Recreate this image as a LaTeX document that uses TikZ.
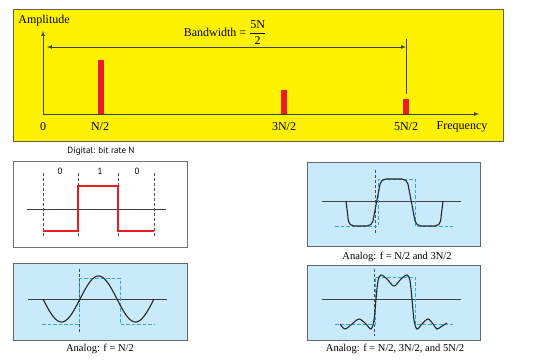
\documentclass[tikz,border=0pt]{standalone}
\usepackage{fontspec}
\setmainfont{Liberation Serif}
\setsansfont{PT Sans}
\usetikzlibrary{arrows,positioning}
\definecolor{barred}{RGB}{237,28,36}
\definecolor{bgyellow}{RGB}{255,242,0}
\definecolor{bglblue}{RGB}{200,234,250}
\definecolor{sqblue}{RGB}{41,171,226}

\begin{document}
\begin{tikzpicture}[x=1pt,y=-1pt,
  every node/.style={font=\fontsize{12}{14}\selectfont, inner sep=1pt},
  lbl/.style={font=\fontsize{10.5}{12}\selectfont},
  sflbl/.style={font=\sffamily\fontsize{9}{11}\selectfont},
  panel/.style={draw=black!60, line width=0.8pt},
  axisline/.style={black!75, line width=0.7pt},
  guide/.style={black!70, dash pattern=on 3pt off 2pt, line width=0.6pt},
  square/.style={sqblue, dash pattern=on 3.5pt off 2pt, line width=0.8pt},
  wave/.style={black!85, line width=1.1pt}]
      \useasboundingbox (0,0) rectangle (534,361);
      % spectrum
      \draw[panel, draw=black!70!yellow, fill=bgyellow] (13,9) rectangle (503,141);
      \fill[barred] (98,60) rectangle (104,114);
      \fill[barred] (281,90) rectangle (287,114);
      \fill[barred] (403,99) rectangle (409,114);
      \coordinate (orig) at (43,114);
      \coordinate (ytop) at (43,31);
      \coordinate (xend) at (479,114);
      \draw[axisline,-latex] (orig) -- (ytop);
      \draw[axisline,-latex] (orig) -- (xend);
      \node at (44,21) (amp) {Amplitude};
      \node at (43,127) (zero) {0};
      \node at (100,127) (half) {N/2};
      \node at (284,127) (threehalf) {3N/2};
      \node at (406,127) (fivehalf) {5N/2};
      \node at (462,127) (freq) {Frequency};
      \node[anchor=base] at (225,36.5) (bw) {Bandwidth = ${\displaystyle\frac{\mbox{5N}}{\mbox{2}}}$};
      \coordinate (bwl) at (47,47);
      \coordinate (bwr) at (406,47);
      \coordinate (bwtop) at (406,39);
      \coordinate (bwbot) at (406,94);
      \draw[axisline,latex-latex] (bwl) -- (bwr);
      \draw[axisline] (bwtop) -- (bwbot);
      % digital signal
      \node[sflbl] at (101,151) (dig) {Digital: bit rate N};
      \draw[panel, draw=black!55, fill=white] (13,161) rectangle (187,247);
      \foreach \x in {43,78,118,154}
        \draw[guide] (\x,173) -- (\x,237);
      \node[sflbl] at (60,171) (bita) {0};
      \node[sflbl] at (100,171) (bitb) {1};
      \node[sflbl] at (137,171) (bitc) {0};
      \draw[axisline] (27,209) -- (166,209);
      \draw[barred, line width=1.8pt] (43,231) -- (78,231) -- (78,186) -- (118,186) -- (118,231) -- (154,231);
      % analog N/2
      \draw[panel, fill=bglblue] (13,263) rectangle (187,340);
      \draw[axisline] (28,299) -- (167,299);
      \draw[guide] (79,269) -- (79,332);
      \draw[square] (42,324) -- (79,324) -- (79,278) -- (120,278) -- (120,324) -- (154,324);
      \draw[wave] plot[domain=0:111, samples=80] ({43+\x},{299+23*sin(\x*4.865)});
      \node[lbl] at (100,349) (ana) {Analog: f = N/2};
      % analog N/2 and 3N/2
      \draw[panel, fill=bglblue] (307,162) rectangle (480,246);
      \draw[axisline] (322,201) -- (461,201);
      \draw[guide] (375,170) -- (375,233);
      \draw[square] (335,226) -- (378,226) -- (378,179) -- (415,179) -- (415,226) -- (453,226);
      \draw[wave, rounded corners=5pt] (346,201) -- (349,226) -- (372,226) -- (381,179) -- (407,179) -- (416,226) -- (440,226) -- (443,201);
      \node[lbl] at (397,257) (anb) {Analog: f = N/2 and 3N/2};
      % analog N/2, 3N/2 and 5N/2
      \draw[panel, fill=bglblue] (307,265) rectangle (480,340);
      \draw[axisline] (322,299) -- (461,299);
      \draw[guide] (374,269) -- (374,336);
      \draw[square] (335,324) -- (375,324) -- (375,277) -- (415,277) -- (415,324) -- (453,324);
      \draw[wave] plot[smooth, tension=0.55] coordinates {(340,324) (345,329) (352,324) (359,319) (366,324) (371,329) (374,320) (376,299) (378,281) (381,275) (387,279) (394,286) (401,279) (407,275) (410,281) (412,299) (414,320) (417,329) (422,324) (428,319) (433,324) (437,329) (442,326) (447,323)};
      \node[lbl] at (395,349) (anc) {Analog: f = N/2, 3N/2, and 5N/2};
\end{tikzpicture}
\end{document}
